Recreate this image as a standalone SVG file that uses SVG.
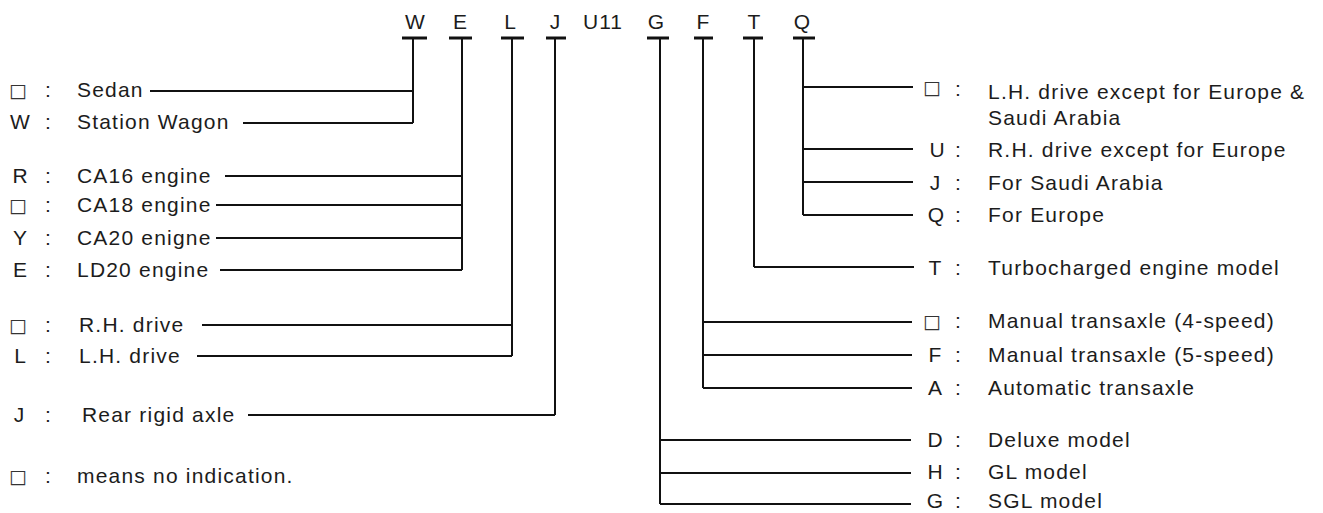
<svg xmlns="http://www.w3.org/2000/svg" width="1323" height="513" viewBox="0 0 1323 513">
<style>
.t{font-family:"Liberation Sans",Arial,"DejaVu Sans",sans-serif;font-size:21px;fill:#1c1c1c;letter-spacing:1.2px}
.h{font-family:"Liberation Sans",Arial,"DejaVu Sans",sans-serif;font-size:21px;fill:#1c1c1c;text-anchor:middle}
.m{text-anchor:middle;letter-spacing:0}
.sq{font-family:"DejaVu Sans",sans-serif;font-size:19px;fill:#333;text-anchor:middle}
.ln{fill:none;stroke:#111;stroke-width:2}
.bar{fill:none;stroke:#111;stroke-width:3}
</style>
<rect width="1323" height="513" fill="#ffffff"/>

<g id="header">
  <g id="h-W"><text class="h" x="415" y="29">W</text><line class="bar" x1="402" y1="38" x2="427" y2="38"/></g>
  <g id="h-E"><text class="h" x="460" y="29">E</text><line class="bar" x1="449" y1="38" x2="472" y2="38"/></g>
  <g id="h-L"><text class="h" x="510" y="29">L</text><line class="bar" x1="501" y1="38" x2="524" y2="38"/></g>
  <g id="h-J"><text class="h" x="555" y="29">J</text><line class="bar" x1="546" y1="38" x2="566" y2="38"/></g>
  <g id="h-U11"><text class="h" x="603" y="29" style="letter-spacing:1px">U11</text></g>
  <g id="h-G"><text class="h" x="656" y="29">G</text><line class="bar" x1="647" y1="38" x2="669" y2="38"/></g>
  <g id="h-F"><text class="h" x="703" y="29">F</text><line class="bar" x1="694" y1="38" x2="713" y2="38"/></g>
  <g id="h-T"><text class="h" x="754" y="29">T</text><line class="bar" x1="743" y1="38" x2="763" y2="38"/></g>
  <g id="h-Q"><text class="h" x="802" y="29">Q</text><line class="bar" x1="793" y1="38" x2="815" y2="38"/></g>
</g>

<g id="connectors">
  <path class="ln" d="M413,38 V123 M150,91 H413 M243,123 H413"/>
  <path class="ln" d="M462,38 V270 M225,176 H462 M216,205 H462 M216,238 H462 M220,270 H462"/>
  <path class="ln" d="M512,38 V356 M202,325 H512 M197,356 H512"/>
  <path class="ln" d="M555,38 V415 M248,415 H555"/>
  <path class="ln" d="M660,38 V504 M660,440 H911 M660,473 H911 M660,504 H911"/>
  <path class="ln" d="M703,38 V388 M703,322 H912 M703,355 H912 M703,388 H912"/>
  <path class="ln" d="M754,38 V267 M754,267 H914"/>
  <path class="ln" d="M803,38 V215 M803,87 H913 M803,149 H913 M803,182 H913 M803,215 H913"/>
</g>

<g id="left-labels">
  <g id="l-sedan"><text class="sq" x="18" y="97">□</text><text class="t m" x="48" y="97">:</text><text class="t" x="77" y="97">Sedan</text></g>
  <g id="l-wagon"><text class="t m" x="20" y="129">W</text><text class="t m" x="48" y="129">:</text><text class="t" x="77" y="129">Station Wagon</text></g>
  <g id="l-ca16"><text class="t m" x="20" y="183">R</text><text class="t m" x="48" y="183">:</text><text class="t" x="77" y="183">CA16 engine</text></g>
  <g id="l-ca18"><text class="sq" x="18" y="212">□</text><text class="t m" x="48" y="212">:</text><text class="t" x="77" y="212">CA18 engine</text></g>
  <g id="l-ca20"><text class="t m" x="20" y="245">Y</text><text class="t m" x="48" y="245">:</text><text class="t" x="77" y="245">CA20 enigne</text></g>
  <g id="l-ld20"><text class="t m" x="20" y="277">E</text><text class="t m" x="48" y="277">:</text><text class="t" x="77" y="277">LD20 engine</text></g>
  <g id="l-rh"><text class="sq" x="18" y="332">□</text><text class="t m" x="48" y="332">:</text><text class="t" x="79" y="332">R.H. drive</text></g>
  <g id="l-lh"><text class="t m" x="20" y="363">L</text><text class="t m" x="48" y="363">:</text><text class="t" x="79" y="363">L.H. drive</text></g>
  <g id="l-rear"><text class="t m" x="19" y="422">J</text><text class="t m" x="48" y="422">:</text><text class="t" x="82" y="422">Rear rigid axle</text></g>
  <g id="l-note"><text class="sq" x="18" y="483">□</text><text class="t m" x="48" y="483">:</text><text class="t" x="77" y="483">means no indication.</text></g>
</g>

<g id="right-labels">
  <g id="r-lh"><text class="sq" x="932" y="94">□</text><text class="t m" x="958" y="96">:</text><text class="t" x="988" y="99">L.H. drive except for Europe &amp;</text><text class="t" x="988" y="125">Saudi Arabia</text></g>
  <g id="r-U"><text class="t m" x="937" y="157">U</text><text class="t m" x="958" y="157">:</text><text class="t" x="988" y="157">R.H. drive except for Europe</text></g>
  <g id="r-J"><text class="t m" x="935" y="190">J</text><text class="t m" x="958" y="190">:</text><text class="t" x="988" y="190">For Saudi Arabia</text></g>
  <g id="r-Q"><text class="t m" x="936" y="222">Q</text><text class="t m" x="958" y="222">:</text><text class="t" x="988" y="222">For Europe</text></g>
  <g id="r-T"><text class="t m" x="935" y="275">T</text><text class="t m" x="958" y="275">:</text><text class="t" x="988" y="275">Turbocharged engine model</text></g>
  <g id="r-m4"><text class="sq" x="932" y="328">□</text><text class="t m" x="958" y="328">:</text><text class="t" x="988" y="328">Manual transaxle (4-speed)</text></g>
  <g id="r-F"><text class="t m" x="935" y="362">F</text><text class="t m" x="958" y="362">:</text><text class="t" x="988" y="362">Manual transaxle (5-speed)</text></g>
  <g id="r-A"><text class="t m" x="935" y="395">A</text><text class="t m" x="958" y="395">:</text><text class="t" x="988" y="395">Automatic transaxle</text></g>
  <g id="r-D"><text class="t m" x="935" y="447">D</text><text class="t m" x="958" y="447">:</text><text class="t" x="988" y="447">Deluxe model</text></g>
  <g id="r-H"><text class="t m" x="935" y="479">H</text><text class="t m" x="958" y="479">:</text><text class="t" x="988" y="479">GL model</text></g>
  <g id="r-G"><text class="t m" x="935" y="508">G</text><text class="t m" x="958" y="508">:</text><text class="t" x="988" y="508">SGL model</text></g>
</g>
</svg>
